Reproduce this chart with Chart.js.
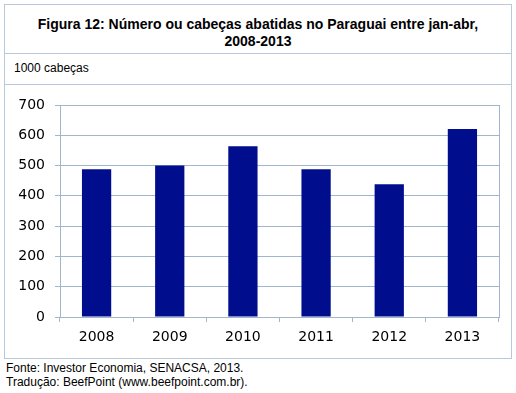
<!DOCTYPE html>
<html>
<head>
<meta charset="utf-8">
<script src="https://cdn.jsdelivr.net/npm/chart.js@4"></script>
<style>
  html, body { margin: 0; padding: 0; background: #fff; }
  body { width: 516px; height: 393px; position: relative; overflow: hidden; font-family: "Liberation Sans", Arial, sans-serif; }
  .box { position: absolute; border: 1px solid #b9c9d9; box-sizing: border-box; }
  #title { left: 4px; top: 4px; width: 508px; height: 50px; text-align: center; font-weight: bold; font-size: 14px; line-height: 17px; padding-top: 11px; color: #000; }
  #sub { left: 4px; top: 53px; width: 508px; height: 32px; font-size: 12px; padding: 7px 0 0 9px; color: #000; }
  #chartbox { left: 4px; top: 84px; width: 508px; height: 275px; }
  #wrap { position: absolute; left: 5px; top: 85px; width: 506px; height: 272px; }
  .foot { position: absolute; left: 6px; font-size: 12px; color: #000; }
</style>
</head>
<body>
<div class="box" id="title">Figura 12: Número ou cabeças abatidas no Paraguai entre jan-abr,<br>2008-2013</div>
<div class="box" id="sub">1000 cabeças</div>
<div class="box" id="chartbox"></div>
<div id="wrap"><canvas id="c" width="506" height="272"></canvas></div>
<div class="foot" style="top:361px">Fonte: Investor Economia, SENACSA, 2013.</div>
<div class="foot" style="top:375px">Tradução: BeefPoint (www.beefpoint.com.br).</div>
<script>
const categories = ["2008", "2009", "2010", "2011", "2012", "2013"];
const values = [488, 500, 564, 488, 438, 621];
const yTicks = [0, 100, 200, 300, 400, 500, 600, 700];

const gridColor = "#9fb6cd";
const plotBorder = {
  id: "plotBorder",
  afterDraw(chart) {
    const a = chart.chartArea, ctx = chart.ctx;
    ctx.save();
    ctx.strokeStyle = gridColor;
    ctx.lineWidth = 1;
    ctx.beginPath();
    ctx.moveTo(Math.round(a.right) + 0.5, a.top);
    ctx.lineTo(Math.round(a.right) + 0.5, a.bottom);
    ctx.stroke();
    ctx.restore();
  }
};

new Chart(document.getElementById("c"), {
  type: "bar",
  data: {
    labels: categories,
    datasets: [{
      data: values,
      backgroundColor: "#000e8e",
      borderWidth: 0,
      barPercentage: 0.4,
      categoryPercentage: 1
    }]
  },
  options: {
    responsive: false,
    animation: false,
    events: [],
    layout: { padding: { left: 0, right: 12, top: 20, bottom: 0 } },
    plugins: { legend: { display: false }, tooltip: { enabled: false } },
    scales: {
      x: {
        offset: true,
        grid: { offset: true, drawOnChartArea: false, drawTicks: true, tickLength: 5, color: gridColor },
        border: { display: true, color: gridColor },
        ticks: { color: "#000", padding: 7, font: { family: "DejaVu Sans", size: 14 } },
        afterFit(s) { s.height = 40; }
      },
      y: {
        min: 0, max: 700,
        afterBuildTicks(s) { s.ticks = yTicks.map(v => ({ value: v })); },
        grid: { color: gridColor, tickLength: 5 },
        border: { display: true, color: gridColor },
        ticks: { color: "#000", padding: 10, font: { family: "DejaVu Sans", size: 14 } },
        afterFit(s) { s.width = 55; }
      }
    }
  },
  plugins: [plotBorder]
});
</script>
</body>
</html>
